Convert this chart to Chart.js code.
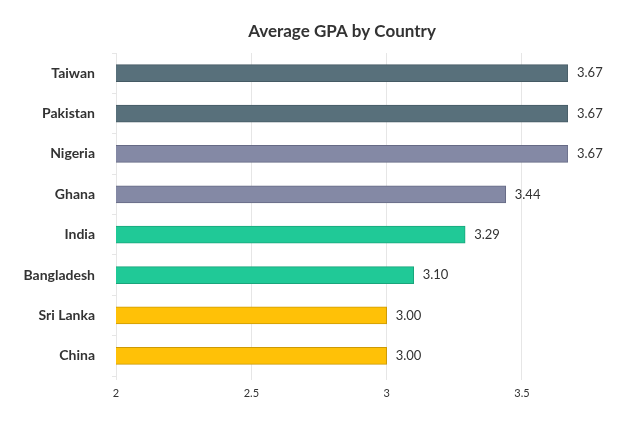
<!DOCTYPE html>
<html>
<head>
<meta charset="utf-8">
<script src="https://cdn.jsdelivr.net/npm/chart.js@4"></script>
<style>
  html, body { margin: 0; padding: 0; background: #fff; }
  #wrap { width: 638px; height: 428px; }
</style>
</head>
<body>
<div id="wrap"><canvas id="c" width="638" height="428"></canvas></div>
<script>
// chart data
var countries = ['Taiwan', 'Pakistan', 'Nigeria', 'Ghana', 'India', 'Bangladesh', 'Sri Lanka', 'China'];
var avgGpa = [3.67, 3.67, 3.67, 3.44, 3.29, 3.10, 3.00, 3.00];
var xTicks = [2, 2.5, 3, 3.5];
var chartTitle = 'Average GPA by Country';

var fills = ['#58707b', '#58707b', '#8489a5', '#8489a5', '#20c997', '#20c997', '#ffc107', '#ffc107'];
var borders = ['#455a64', '#455a64', '#666a85', '#666a85', '#1aa57b', '#1aa57b', '#cc9a06', '#cc9a06'];

// title centred over the plot area, value text at the end of each bar
var extras = {
  id: 'extras',
  afterDatasetsDraw: function(chart) {
    var ctx = chart.ctx;
    var area = chart.chartArea;
    var meta = chart.getDatasetMeta(0);
    ctx.save();
    ctx.font = 'bold 17px Lato';
    ctx.fillStyle = '#333';
    ctx.textAlign = 'center';
    ctx.textBaseline = 'middle';
    ctx.fillText(chartTitle, (area.left + area.right) / 2, 32);

    ctx.font = '13px Lato';
    ctx.textAlign = 'left';
    meta.data.forEach(function(bar, i) {
      ctx.fillText(avgGpa[i].toFixed(2), bar.x + 9, bar.y);
    });
    ctx.restore();
  }
};

Chart.defaults.font.family = 'Lato';
Chart.defaults.color = '#333';

new Chart(document.getElementById('c'), {
  type: 'bar',
  data: {
    labels: countries,
    datasets: [{
      label: 'Average GPA',
      data: avgGpa,
      backgroundColor: fills,
      borderColor: borders,
      borderWidth: 1,
      barThickness: 17
    }]
  },
  options: {
    indexAxis: 'y',
    responsive: false,
    animation: false,
    devicePixelRatio: 1,
    layout: { padding: { left: 0, right: 70, top: 53, bottom: 0 } },
    plugins: {
      legend: { display: false },
      tooltip: { enabled: false },
      title: { display: false }
    },
    scales: {
      x: {
        min: 2,
        max: 3.67,
        afterBuildTicks: function(scale) {
          scale.ticks = xTicks.map(function(v) { return { value: v }; });
        },
        afterFit: function(scale) { scale.height = 52; },
        ticks: {
          font: { size: 11 },
          color: '#333',
          padding: 7,
          callback: function(v) { return String(v); }
        },
        grid: { color: '#e6e6e6', tickLength: 4 },
        border: { display: false }
      },
      y: {
        afterFit: function(scale) { scale.width = 116; },
        ticks: { font: { size: 14, weight: 'bold' }, color: '#333', padding: 17 },
        grid: { drawOnChartArea: false, color: '#e6e6e6', tickLength: 4 },
        border: { display: false }
      }
    }
  },
  plugins: [extras]
});
</script>
</body>
</html>
